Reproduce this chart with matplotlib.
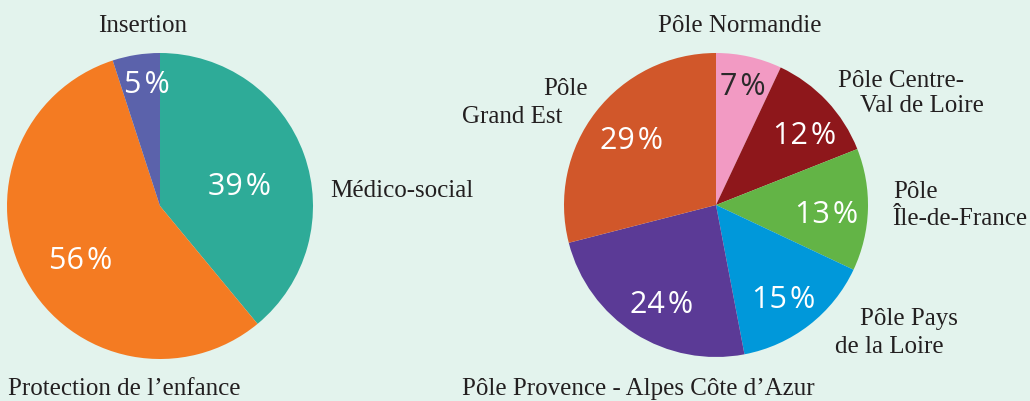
import matplotlib
matplotlib.use("Agg")
import matplotlib.pyplot as plt
import numpy as np

# ---------------- data ----------------
left_labels = ["Médico-social", "Protection de l'enfance", "Insertion"]
left_values = [39, 56, 5]
left_colors = ["#2eab98", "#f47b22", "#5b62ab"]

right_labels = ["Pôle Normandie", "Pôle Centre-Val de Loire", "Pôle Île-de-France",
                "Pôle Pays de la Loire", "Pôle Provence - Alpes Côte d’Azur", "Pôle Grand Est"]
right_values = [7, 12, 13, 15, 24, 29]
right_colors = ["#f29ac3", "#8e171b", "#63b446", "#0098da", "#5b3a96", "#d1572a"]
right_pct_colors = ["#2a2a2a", "white", "white", "white", "white", "white"]

# ---------------- layout (pixels) ----------------
W, H = 1030, 401
BG = "#e3f3ed"
left_center, left_r = (160, 206), 153
right_center, right_r = (716, 205), 152
left_pct_dist = [0.54, 0.62, 0.815]
left_pct_shift = [-4.3, 4.6, -3.0]
right_pct_dist = [0.815, 0.75, 0.73, 0.75, 0.73, 0.71]
right_pct_shift = [0.0, -3.9, -1.8, -1.3, 3.3, -0.5]

# label line placements: (text, x, baseline_y, ha)
left_label_lines = [
    [("Médico-social", 330, 197, "left")],
    [("Protection de l’enfance", 8, 395, "left")],
    [("Insertion", 143, 32, "center")],
]
right_label_lines = [
    [("Pôle Normandie", 740, 32, "center")],
    [("Pôle Centre-", 838, 87, "left"), ("Val de Loire", 860, 112, "left")],
    [("Pôle", 893, 198, "left"), ("Île-de-France", 893, 225, "left")],
    [("Pôle Pays", 860, 325, "left"), ("de la Loire", 835, 353, "left")],
    [("Pôle Provence - Alpes Côte d’Azur", 462, 395, "left")],
    [("Pôle", 543, 95, "left"), ("Grand Est", 462, 123, "left")],
]

fig = plt.figure(figsize=(W / 100, H / 100), dpi=100, facecolor=BG)
ax = fig.add_axes([0, 0, 1, 1])
ax.set_xlim(0, W)
ax.set_ylim(0, H)
ax.set_facecolor(BG)
ax.axis("off")

serif = ["Liberation Serif", "DejaVu Serif"]
sans = ["Open Sans", "DejaVu Sans"]


def draw_pie(values, colors, center, r, dists, shifts, pct_colors, label_lines):
    cx, cy = center[0], H - center[1]
    wedges, _ = ax.pie(values, colors=colors, startangle=90, counterclock=False,
                       center=(cx, cy), radius=r, frame=True,
                       wedgeprops=dict(linewidth=0.3, edgecolor="none"))
    total = float(sum(values))
    for w, v, d, s, pc in zip(wedges, values, dists, shifts, pct_colors):
        mid = np.deg2rad((w.theta1 + w.theta2) / 2 + s)
        x = cx + d * r * np.cos(mid)
        y = cy + d * r * np.sin(mid)
        ax.text(x, y - 11, f"{round(100 * v / total)}\u200a%", color=pc,
                fontsize=22, family=sans, ha="center", va="baseline")
    for lines in label_lines:
        for txt, x, yb, ha in lines:
            ax.text(x, H - yb, txt, fontsize=18, family=serif, color="#231f20",
                    ha=ha, va="baseline")


draw_pie(left_values, left_colors, left_center, left_r, left_pct_dist,
         left_pct_shift, ["white"] * 3, left_label_lines)
draw_pie(right_values, right_colors, right_center, right_r, right_pct_dist,
         right_pct_shift, right_pct_colors, right_label_lines)

ax.set_xlim(0, W)
ax.set_ylim(0, H)
ax.set_aspect("equal")
ax.axis("off")
fig.savefig("out.png", dpi=100, facecolor=BG)
